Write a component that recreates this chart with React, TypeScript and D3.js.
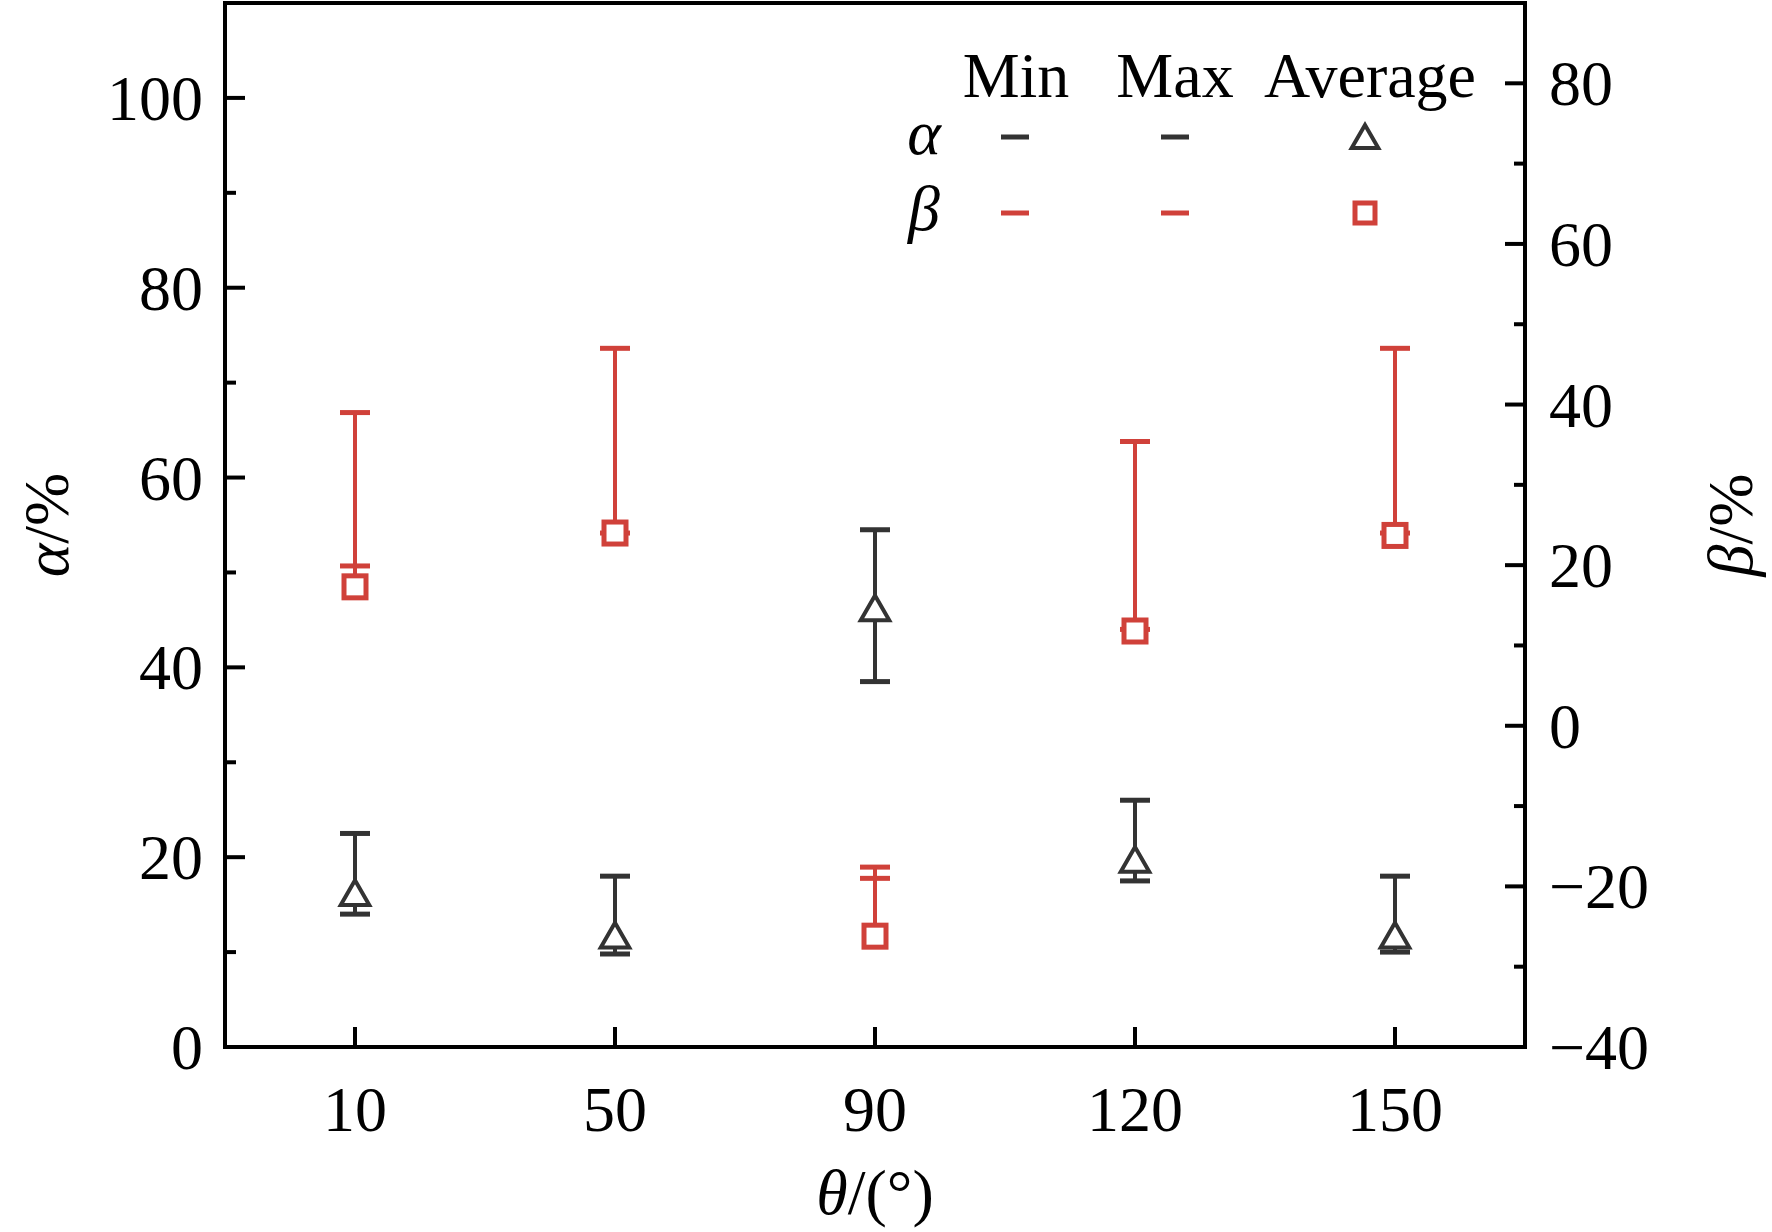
import React, { useRef, useEffect } from 'react';
import * as d3 from 'd3';

const angles = ['10', '50', '90', '120', '150'];
const alphaMin = [14, 9.8, 38.5, 17.5, 10];
const alphaMax = [22.5, 18, 54.5, 26, 18];
const alphaAvg = [16, 11.5, 46, 19.5, 11.5];
const betaMin = [19.9, 24, -19, 12, 24];
const betaMax = [39, 47, -17.6, 35.4, 47];
const betaAvg = [17.3, 24, -26.2, 11.8, 23.7];
const leftTicks = [0, 20, 40, 60, 80, 100];
const rightTicks = [-40, -20, 0, 20, 40, 60, 80];

const BLACK = '#333333';
const RED = '#d0413a';
const FONT = '"Liberation Serif", "Times New Roman", Times, serif';

const App: React.FC = () => {
    const svgRef = useRef<SVGSVGElement | null>(null);

    useEffect(() => {
        const svg = d3.select(svgRef.current);
        svg.selectAll('*').remove();

        const left = 225, right = 1525, top = 3, bottom = 1047;

        const x = d3.scalePoint().domain(angles).range([left, right]).padding(0.5);
        const yL = d3.scaleLinear().domain([0, 110]).range([bottom, top]);
        const yR = d3.scaleLinear().domain([-40, 90]).range([bottom, top]);

        svg.append('rect')
            .attr('x', left).attr('y', top)
            .attr('width', right - left).attr('height', bottom - top)
            .attr('fill', 'none').attr('stroke', '#000').attr('stroke-width', 4);

        const g = svg.append('g').attr('font-family', FONT).attr('font-size', 64).attr('fill', '#000');

        d3.range(0, 111, 10).forEach(v => {
            const major = v % 20 === 0;
            g.append('line').attr('x1', left).attr('x2', left + (major ? 20 : 11))
                .attr('y1', yL(v)).attr('y2', yL(v)).attr('stroke', '#000').attr('stroke-width', 4);
        });
        leftTicks.forEach(v => {
            g.append('text').attr('x', left - 22).attr('y', yL(v) + 22)
                .attr('text-anchor', 'end').text(v);
        });

        d3.range(-40, 91, 10).forEach(v => {
            const major = v % 20 === 0;
            g.append('line').attr('x1', right).attr('x2', right - (major ? 20 : 11))
                .attr('y1', yR(v)).attr('y2', yR(v)).attr('stroke', '#000').attr('stroke-width', 4);
        });
        rightTicks.forEach(v => {
            g.append('text').attr('x', right + 24).attr('y', yR(v) + 22)
                .text(v < 0 ? '\u2212' + Math.abs(v) : String(v));
        });

        angles.forEach(a => {
            g.append('line').attr('x1', x(a)!).attr('x2', x(a)!)
                .attr('y1', bottom).attr('y2', bottom - 20).attr('stroke', '#000').attr('stroke-width', 4);
            g.append('text').attr('x', x(a)!).attr('y', bottom + 84)
                .attr('text-anchor', 'middle').text(a);
        });

        const xt = g.append('text').attr('x', (left + right) / 2).attr('y', 1214).attr('text-anchor', 'middle');
        xt.append('tspan').attr('font-style', 'italic').text('θ');
        xt.append('tspan').text('/(°)');

        const ylt = g.append('text').attr('transform', `translate(68,${(top + bottom) / 2}) rotate(-90)`)
            .attr('text-anchor', 'middle');
        ylt.append('tspan').attr('font-style', 'italic').text('α');
        ylt.append('tspan').text('/%');

        const yrt = g.append('text').attr('transform', `translate(1752,${(top + bottom) / 2}) rotate(-90)`)
            .attr('text-anchor', 'middle');
        yrt.append('tspan').attr('font-style', 'italic').text('β');
        yrt.append('tspan').text('/%');

        const cap = 15;
        const tri = (cx: number, cy: number, s: number) =>
            `M${cx},${cy - s}L${cx + s * 0.95},${cy + s * 0.65}L${cx - s * 0.95},${cy + s * 0.65}Z`;

        angles.forEach((a, i) => {
            const cx = x(a)!;
            const lo = Math.min(alphaMin[i], alphaAvg[i]);
            g.append('line').attr('x1', cx).attr('x2', cx).attr('y1', yL(alphaMax[i])).attr('y2', yL(lo))
                .attr('stroke', BLACK).attr('stroke-width', 4);
            [alphaMin[i], alphaMax[i]].forEach(v => {
                g.append('line').attr('x1', cx - cap).attr('x2', cx + cap).attr('y1', yL(v)).attr('y2', yL(v))
                    .attr('stroke', BLACK).attr('stroke-width', 5);
            });
            g.append('path').attr('d', tri(cx, yL(alphaAvg[i]), 15))
                .attr('fill', 'white').attr('stroke', BLACK).attr('stroke-width', 4);
        });

        angles.forEach((a, i) => {
            const cx = x(a)!;
            const lo = Math.min(betaMin[i], betaAvg[i]);
            g.append('line').attr('x1', cx).attr('x2', cx).attr('y1', yR(betaMax[i])).attr('y2', yR(lo))
                .attr('stroke', RED).attr('stroke-width', 4);
            [betaMin[i], betaMax[i]].forEach(v => {
                g.append('line').attr('x1', cx - cap).attr('x2', cx + cap).attr('y1', yR(v)).attr('y2', yR(v))
                    .attr('stroke', RED).attr('stroke-width', 5);
            });
            g.append('rect').attr('x', cx - 11).attr('y', yR(betaAvg[i]) - 11)
                .attr('width', 22).attr('height', 22)
                .attr('fill', 'white').attr('stroke', RED).attr('stroke-width', 5);
        });

        const lg = g.append('g');
        lg.append('text').attr('x', 1016).attr('y', 97).attr('text-anchor', 'middle').text('Min');
        lg.append('text').attr('x', 1175).attr('y', 97).attr('text-anchor', 'middle').text('Max');
        lg.append('text').attr('x', 1370).attr('y', 97).attr('text-anchor', 'middle').text('Average');
        lg.append('text').attr('x', 924).attr('y', 154).attr('text-anchor', 'middle').attr('font-style', 'italic').text('α');
        lg.append('text').attr('x', 924).attr('y', 230).attr('text-anchor', 'middle').attr('font-style', 'italic').text('β');
        [[BLACK, 137], [RED, 213]].forEach(([c, yy]) => {
            [1015, 1175].forEach(cx => {
                lg.append('line').attr('x1', cx - 14).attr('x2', cx + 14).attr('y1', yy as number).attr('y2', yy as number)
                    .attr('stroke', c as string).attr('stroke-width', 5);
            });
        });
        lg.append('path').attr('d', tri(1365, 139, 14)).attr('fill', 'white').attr('stroke', BLACK).attr('stroke-width', 4);
        lg.append('rect').attr('x', 1355).attr('y', 203).attr('width', 20).attr('height', 20)
            .attr('fill', 'white').attr('stroke', RED).attr('stroke-width', 5);
    }, []);

    return (
        <svg ref={svgRef} width={1772} height={1232}
            style={{ position: 'absolute', left: 0, top: 0, background: 'white' }} />
    );
};

export default App;
